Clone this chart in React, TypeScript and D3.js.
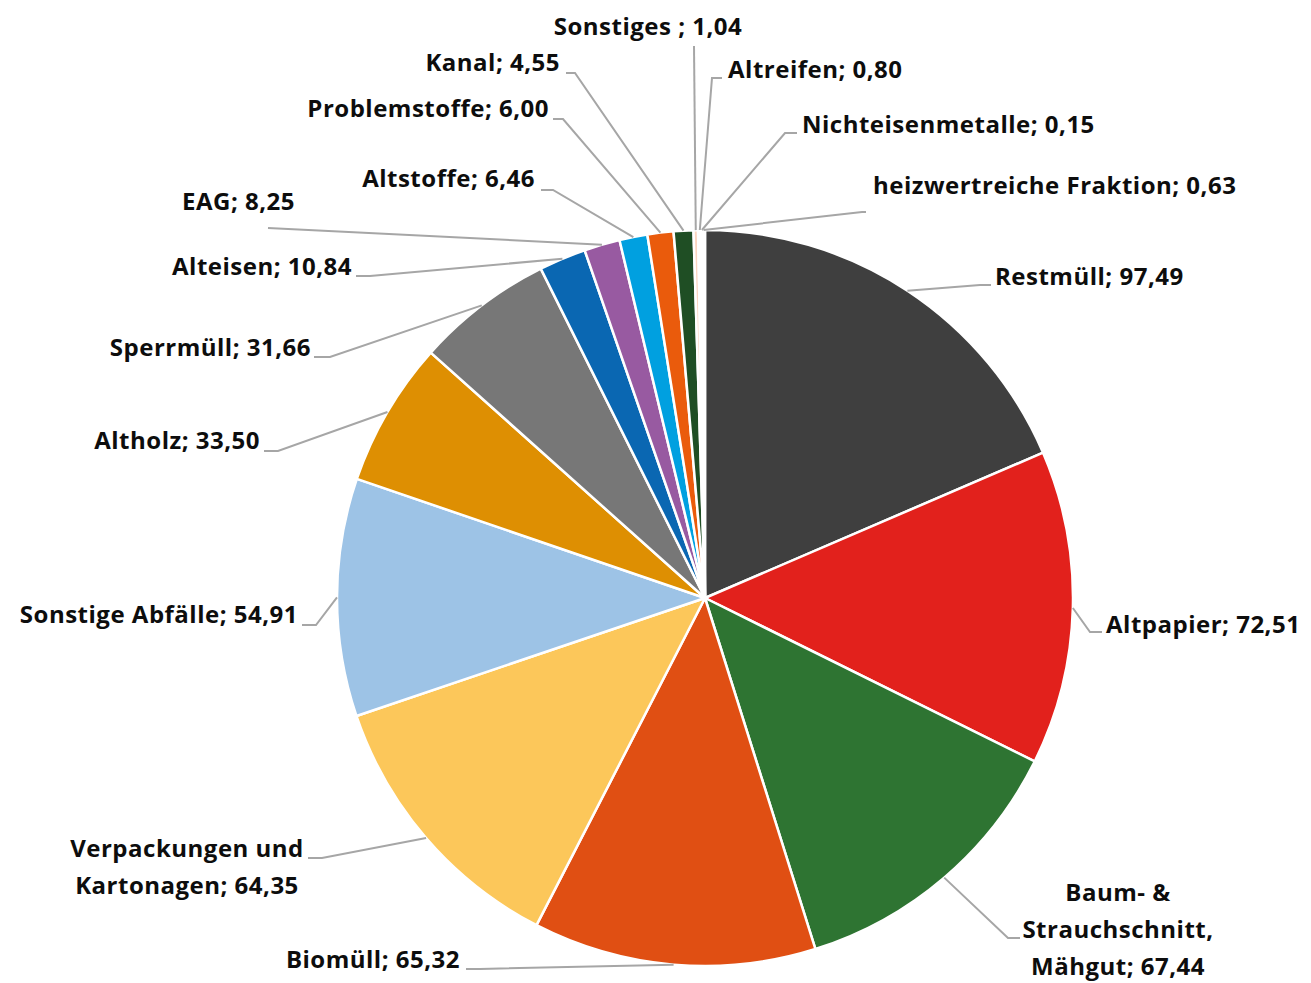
import React from "react";
import * as d3 from "d3";

const categories = [
  "Restmüll", "Altpapier", "Baum- & Strauchschnitt, Mähgut", "Biomüll",
  "Verpackungen und Kartonagen", "Sonstige Abfälle", "Altholz", "Sperrmüll",
  "Alteisen", "EAG", "Altstoffe", "Problemstoffe", "Kanal", "Sonstiges ",
  "Altreifen", "Nichteisenmetalle", "heizwertreiche Fraktion",
];
const values = [97.49, 72.51, 67.44, 65.32, 64.35, 54.91, 33.5, 31.66, 10.84, 8.25, 6.46, 6.0, 4.55, 1.04, 0.8, 0.15, 0.63];
const labelLines = [
  ["Restmüll; 97,49"],
  ["Altpapier; 72,51"],
  ["Baum- &", "Strauchschnitt,", "Mähgut; 67,44"],
  ["Biomüll; 65,32"],
  ["Verpackungen und", "Kartonagen; 64,35"],
  ["Sonstige Abfälle; 54,91"],
  ["Altholz; 33,50"],
  ["Sperrmüll; 31,66"],
  ["Alteisen; 10,84"],
  ["EAG; 8,25"],
  ["Altstoffe; 6,46"],
  ["Problemstoffe; 6,00"],
  ["Kanal; 4,55"],
  ["Sonstiges ; 1,04"],
  ["Altreifen; 0,80"],
  ["Nichteisenmetalle; 0,15"],
  ["heizwertreiche Fraktion; 0,63"],
];
const colors = [
  "#3f3f3f", "#e2211c", "#2e7432", "#e04f13", "#fcc75a", "#9dc3e6", "#de8f02", "#777777",
  "#0a67b2", "#985aa1", "#00a0e0", "#ea5b0c", "#1f4e24", "#fbd5c0", "#ffffff", "#f2f2f2", "#ffffff",
];

// label layout: text anchor x, first baseline y, anchor, elbow (ex, ey), horizontal end hx
type Lay = { x: number; y: number; a: "start" | "end" | "middle"; ex: number; ey: number; hx: number };
const layout: Lay[] = [
  { x: 995, y: 285, a: "start", ex: 980, ey: 285, hx: 991 },
  { x: 1106, y: 633, a: "start", ex: 1090, ey: 632, hx: 1102 },
  { x: 1118, y: 901, a: "middle", ex: 1008, ey: 938, hx: 1020 },
  { x: 460, y: 968, a: "end", ex: 480, ey: 969, hx: 466 },
  { x: 187, y: 857, a: "middle", ex: 322, ey: 858, hx: 308 },
  { x: 298, y: 623, a: "end", ex: 316, ey: 625, hx: 302 },
  { x: 260, y: 449, a: "end", ex: 278, ey: 451, hx: 264 },
  { x: 311, y: 356, a: "end", ex: 330, ey: 357, hx: 314 },
  { x: 352, y: 275, a: "end", ex: 370, ey: 276, hx: 356 },
  { x: 295, y: 210, a: "end", ex: 268, ey: 228, hx: 268 },
  { x: 535, y: 187, a: "end", ex: 553, ey: 190, hx: 541 },
  { x: 549, y: 117, a: "end", ex: 563, ey: 119, hx: 553 },
  { x: 560, y: 71, a: "end", ex: 575, ey: 73, hx: 566 },
  { x: 648, y: 35, a: "middle", ex: 694, ey: 46, hx: 694 },
  { x: 728, y: 78, a: "start", ex: 712, ey: 78, hx: 722 },
  { x: 802, y: 133, a: "start", ex: 785, ey: 133, hx: 797 },
  { x: 873, y: 194, a: "start", ex: 862, ey: 212, hx: 866 },
];

const W = 1311;
const H = 983;
const cx = 705;
const cy = 598;
const R = 368;

export default function App() {
  const idx = d3.range(values.length);
  const pie = d3.pie<number>().sort(null).value((i) => values[i]);
  const arcs = pie(idx);
  const arc = d3.arc<d3.PieArcDatum<number>>().innerRadius(0).outerRadius(R);
  const edge = d3.arc<d3.PieArcDatum<number>>().innerRadius(R).outerRadius(R);

  return (
    <svg width={W} height={H} style={{ position: "absolute", left: 0, top: 0, background: "#fff" }}>
      <g transform={`translate(${cx},${cy})`}>
        {arcs.map((a) => (
          <path key={a.data} d={arc(a) || ""} fill={colors[a.data]} stroke="#fff" strokeWidth={2.5} strokeLinejoin="round" />
        ))}
      </g>
      <g fill="none" stroke="#a6a6a6" strokeWidth={2}>
        {arcs.map((a) => {
          const [px, py] = edge.centroid(a);
          const l = layout[a.data];
          return (
            <polyline key={a.data} points={`${cx + px},${cy + py} ${l.ex},${l.ey} ${l.hx},${l.ey}`} />
          );
        })}
      </g>
      <g fontFamily="'Open Sans', sans-serif" fontWeight={700} fontSize={24} letterSpacing={0.5} fill="#0d0d0d">
        {arcs.map((a) => {
          const l = layout[a.data];
          return (
            <text key={a.data} x={l.x} y={l.y} textAnchor={l.a}>
              {labelLines[a.data].map((t, k) => (
                <tspan key={k} x={l.x} dy={k === 0 ? 0 : 37}>{t}</tspan>
              ))}
            </text>
          );
        })}
      </g>
    </svg>
  );
}
